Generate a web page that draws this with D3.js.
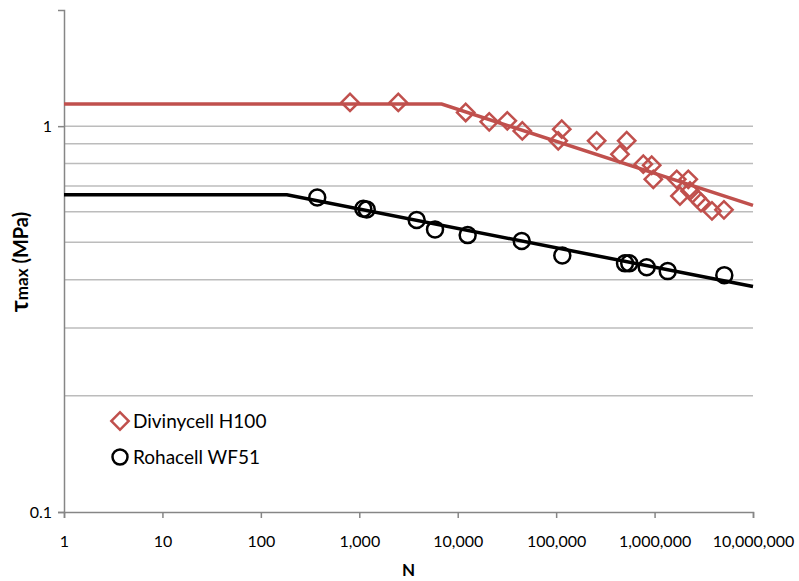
<!DOCTYPE html>
<html>
<head>
<meta charset="utf-8">
<script src="https://cdn.jsdelivr.net/npm/d3@7"></script>
<style>
  body { margin: 0; background: #fff; }
  svg text { font-family: Lato, "Open Sans", sans-serif; fill: #000; }
</style>
</head>
<body>
<svg id="chart"></svg>
<script>
// cycles N and max shear stress (MPa)
const divinycellN   = [805, 2490, 12050, 20900, 31900, 45300, 114000, 105000, 258000, 521000, 445000,
                       768000, 935000, 971000, 1680000, 2200000, 1810000, 2290000, 2700000, 2960000, 3830000, 5070000];
const divinycellTau = [1.152, 1.152, 1.085, 1.026, 1.032, 0.972, 0.982, 0.916, 0.916, 0.917, 0.846,
                       0.797, 0.792, 0.728, 0.728, 0.728, 0.659, 0.679, 0.650, 0.634, 0.603, 0.607];
const rohacellN     = [374, 1099, 1190, 3830, 5880, 12620, 44700, 115500, 501000, 553000, 832000, 1360000, 5110000];
const rohacellTau   = [0.653, 0.611, 0.608, 0.571, 0.540, 0.522, 0.504, 0.462, 0.441, 0.441, 0.431, 0.421, 0.411];

// fitted curves: flat part then power law
const divinycellFitN   = [1, 6870, 10000000];
const divinycellFitTau = [1.141, 1.141, 0.623];
const rohacellFitN     = [1, 184, 10000000];
const rohacellFitTau   = [0.664, 0.664, 0.384];

const xTicks = [1, 10, 100, 1000, 10000, 100000, 1000000, 10000000];
const yTicks = [0.1, 1];
const yGrid  = [0.2, 0.3, 0.4, 0.5, 0.6, 0.7, 0.8, 0.9, 1];
const seriesNames = ["Divinycell H100", "Rohacell WF51"];

const svgWidth = 799, svgHeight = 581;
const margin = {top: 10, right: 46, bottom: 69, left: 64},
    width = svgWidth - margin.left - margin.right,
    height = svgHeight - margin.top - margin.bottom;

const red = "#c0504d";

const chart = d3.select("#chart")
    .attr("width", svgWidth)
    .attr("height", svgHeight);

const g = chart.append("g")
    .attr("transform", `translate(${margin.left},${margin.top})`);

const xScale = d3.scaleLog().domain([1, 10000000]).range([0, width]);
const yScale = d3.scaleLog().domain([0.1, 2]).range([height, 0]);

// gridlines
g.append("g").selectAll("line")
    .data(yGrid)
    .enter()
    .append("line")
    .attr("x1", 0).attr("x2", width)
    .attr("y1", d => yScale(d)).attr("y2", d => yScale(d))
    .attr("stroke", "#bcbcbc")
    .attr("stroke-width", 1.5);

// axes
const xAxis = d3.axisBottom(xScale).tickValues(xTicks).tickFormat(d3.format(",")).tickSizeOuter(0).tickSize(6);
const yAxis = d3.axisLeft(yScale).tickValues(yTicks).tickFormat(d => d === 1 ? "1" : "0.1").tickSizeOuter(0).tickSize(6);

const gx = g.append("g").attr("transform", `translate(0,${height})`).call(xAxis);
const gy = g.append("g").call(yAxis);

[gx, gy].forEach(a => {
    a.select(".domain").attr("stroke", "#868686").attr("stroke-width", 1.5);
    a.selectAll(".tick line").attr("stroke", "#868686").attr("stroke-width", 1.5);
    a.selectAll(".tick text").style("font-size", "16px").attr("fill", "#000");
});
gx.selectAll(".tick text").attr("y", 24);
gy.selectAll(".tick text").attr("x", -12);

// axis titles
g.append("text")
    .attr("x", width / 2)
    .attr("y", height + 64)
    .attr("text-anchor", "middle")
    .style("font-weight", "bold")
    .style("font-size", "17px")
    .text("N");

const yLabel = g.append("text")
    .attr("transform", `translate(${-36},${height / 2 + 1}) rotate(-90)`)
    .attr("text-anchor", "middle")
    .style("font-weight", "bold");
yLabel.append("tspan").style("font-size", "25px").text("τ");
yLabel.append("tspan").style("font-size", "17px").text("max");
yLabel.append("tspan").style("font-size", "20px").text(" (MPa)");

// fitted lines
const line = d3.line()
    .x(d => xScale(d[0]))
    .y(d => yScale(d[1]))
    .curve(d3.curveLinear);

g.append("path")
    .datum(divinycellFitN.map((n, i) => [n, divinycellFitTau[i]]))
    .attr("d", line)
    .attr("fill", "none")
    .attr("stroke", red)
    .attr("stroke-width", 3.5);

g.append("path")
    .datum(rohacellFitN.map((n, i) => [n, rohacellFitTau[i]]))
    .attr("d", line)
    .attr("fill", "none")
    .attr("stroke", "#000")
    .attr("stroke-width", 3.5);

// markers
const diamond = d3.symbol().type(d3.symbolSquare).size(150);

g.append("g").selectAll("path")
    .data(divinycellN.map((n, i) => [n, divinycellTau[i]]))
    .enter()
    .append("path")
    .attr("d", diamond)
    .attr("transform", d => `translate(${xScale(d[0])},${yScale(d[1])}) rotate(45)`)
    .attr("fill", "none")
    .attr("stroke", red)
    .attr("stroke-width", 2.5);

g.append("g").selectAll("circle")
    .data(rohacellN.map((n, i) => [n, rohacellTau[i]]))
    .enter()
    .append("circle")
    .attr("cx", d => xScale(d[0]))
    .attr("cy", d => yScale(d[1]))
    .attr("r", 8)
    .attr("fill", "none")
    .attr("stroke", "#000")
    .attr("stroke-width", 2.5);

// legend
const legend = chart.append("g").attr("transform", "translate(120,421)");
legend.append("path")
    .attr("d", diamond)
    .attr("transform", "rotate(45)")
    .attr("fill", "none")
    .attr("stroke", red)
    .attr("stroke-width", 2.5);
legend.append("circle")
    .attr("cx", 0).attr("cy", 36).attr("r", 7.5)
    .attr("fill", "none")
    .attr("stroke", "#000")
    .attr("stroke-width", 2.5);
legend.selectAll("text")
    .data(seriesNames)
    .enter()
    .append("text")
    .attr("x", 13)
    .attr("y", (d, i) => i * 36 + 7)
    .style("font-size", "19px")
    .text(d => d);
</script>
</body>
</html>
